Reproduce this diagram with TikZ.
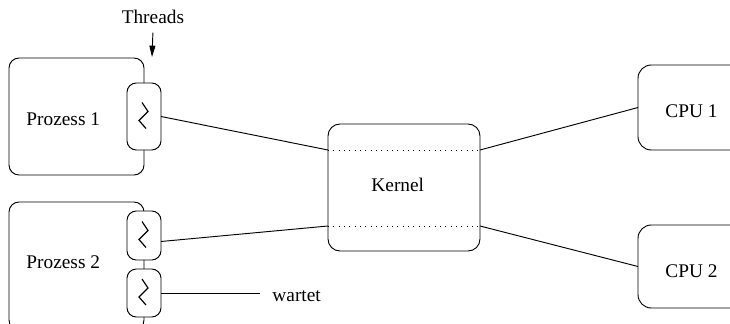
\documentclass[tikz,border=0pt]{standalone}
\usepackage{fontspec}
\setmainfont{Liberation Serif}
\usetikzlibrary{arrows.meta}
\begin{document}
\begin{tikzpicture}[x=0.75pt, y=-0.75pt, line width=0.7pt,
  font=\fontsize{14.5}{17}\selectfont,
  procbox/.style={draw, rounded corners=7.5pt, inner sep=0pt, outer sep=0pt,
    minimum width=135*0.75pt},
  threadbox/.style={draw, fill=white, rounded corners=7pt, inner sep=0pt,
    outer sep=0pt, minimum width=34*0.75pt},
  kernelbox/.style={draw, rounded corners=9pt, inner sep=0pt, outer sep=0pt,
    minimum width=152*0.75pt, minimum height=127*0.75pt},
  cpubox/.style={draw, rounded corners=10pt, inner sep=0pt, outer sep=0pt,
    minimum width=106*0.75pt},
  txt/.style={inner sep=0pt, anchor=base west},
  zigzag/.pic={\draw[line width=0.9pt, line join=miter]
    (-2,-14) -- (4,-5) -- (-5,4) -- (2,12);},
  kdots/.style={dash pattern=on 0.75pt off 3.25pt}
]
\useasboundingbox (0,0) rectangle (730,324);
\clip (0,0) rectangle (730,324);

% processes
\node[procbox, minimum height=117*0.75pt] (p1) at (76.5,116.5) {};
\node[procbox, minimum height=128*0.75pt] (p2) at (76.5,266) {};
\node[txt] (p1t) at (26,125) {Prozess 1};
\node[txt] (p2t) at (26,268.5) {Prozess 2};

% threads on the process borders
\node[threadbox, minimum height=67*0.75pt] (t1) at (144,116.5) {};
\node[threadbox, minimum height=49*0.75pt] (t2a) at (144,235.5) {};
\node[threadbox, minimum height=48*0.75pt] (t2b) at (144,293) {};
\pic at (t1.center) {zigzag};
\pic at (t2a.center) {zigzag};
\pic at (t2b.center) {zigzag};

% thread label and arrow
\node[txt] (thr) at (121.3,23.3) {Threads};
\coordinate (thrtip) at (152,57);
\draw[-{Triangle[length=8.5pt,width=4.5pt]}] ([yshift=-6.5pt]thr.south) -- (thrtip);

% kernel
\node[kernelbox] (kernel) at (404,187.5) {};
\node[txt] (kt) at (371,191.5) {Kernel};
\coordinate (kul) at (328,150);
\coordinate (kur) at (480,150);
\coordinate (kll) at (328,226);
\coordinate (klr) at (480,226);
\draw[kdots] (kul) -- (kur);
\draw[kdots] (kll) -- (klr);

% CPUs
\node[cpubox, minimum height=85*0.75pt] (cpu1) at (691,107.5) {};
\node[cpubox, minimum height=83*0.75pt] (cpu2) at (691,266.5) {};
\node[txt] (c1t) at (665,117.7) {CPU 1};
\node[txt] (c2t) at (665,277.7) {CPU 2};

% connections
\draw (t1.east) -- (kul);
\draw ([yshift=-4.5pt]t2a.east) -- (kll);
\draw (kur) -- (cpu1.west);
\draw (klr) -- (cpu2.west);

% waiting thread
\node[txt] (wart) at (272,301.5) {wartet};
\draw[shorten >=9pt] (t2b.east) -- (t2b.east -| wart.west);
\end{tikzpicture}
\end{document}
